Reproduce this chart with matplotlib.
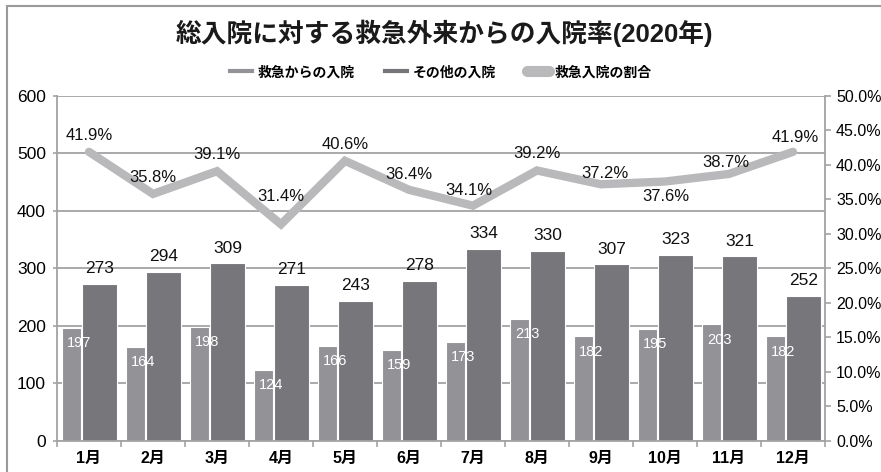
import matplotlib
matplotlib.use("Agg")
import matplotlib.pyplot as plt
from matplotlib.lines import Line2D
from matplotlib.patches import Rectangle
from matplotlib.ticker import FuncFormatter
import numpy as np

plt.rcParams['font.family'] = ['Liberation Sans', 'Noto Sans CJK JP', 'DejaVu Sans']

months = ['1月', '2月', '3月', '4月', '5月', '6月', '7月', '8月', '9月', '10月', '11月', '12月']
emergency = [197, 164, 198, 124, 166, 159, 173, 213, 182, 195, 203, 182]
other = [273, 294, 309, 271, 243, 278, 334, 330, 307, 323, 321, 252]
rate = [41.9, 35.8, 39.1, 31.4, 40.6, 36.4, 34.1, 39.2, 37.2, 37.6, 38.7, 41.9]

c_light = '#939397'
c_dark = '#77777b'
c_line = '#b9b9bc'
c_grid = '#a3a3a3'

fig = plt.figure(figsize=(8.81, 4.72), dpi=100)
ax = fig.add_axes([0.0647, 0.0657, 0.8717, 0.731])
x = np.arange(len(months))

ax.bar(x - 0.27, emergency, width=0.29, color=c_light, edgecolor='white', linewidth=0.8, zorder=2)
ax.bar(x + 0.165, other, width=0.54, color=c_dark, edgecolor='white', linewidth=0.8, zorder=2)

for i in range(len(months)):
    ax.annotate(str(emergency[i]), (x[i] - 0.15, emergency[i]), xytext=(0, -11),
                textcoords='offset points', ha='center', va='center',
                color='white', fontsize=10.5, zorder=3)
    ax.annotate(str(other[i]), (x[i] + 0.165, other[i]), xytext=(0, 11),
                textcoords='offset points', ha='center', va='center',
                color='#111111', fontsize=12.5, zorder=3)

ax.set_xlim(-0.5, 11.5)
ax.set_ylim(0, 600)
ax.set_yticks(range(0, 601, 100))
ax.set_xticks(np.arange(-0.5, 12, 1), minor=False)
ax.set_xticklabels([])
ax.set_xticks(x, minor=True)
ax.set_xticklabels(months, minor=True, fontsize=11.5, fontweight='bold')
ax.tick_params(axis='x', which='minor', length=0, pad=7)
ax.tick_params(axis='x', which='major', length=4, color=c_grid, width=1.2)
ax.tick_params(axis='y', length=3, color=c_grid, width=1.2, labelsize=12.5, pad=5)
ax.grid(axis='y', color=c_grid, linewidth=1.3)
ax.set_axisbelow(True)
for s in ['top', 'right']:
    ax.spines[s].set_visible(False)
for s in ['left', 'bottom']:
    ax.spines[s].set_color(c_grid)
    ax.spines[s].set_linewidth(1.3)

ax2 = ax.twinx()
ax2.plot(x, rate, color=c_line, linewidth=6, solid_joinstyle='miter', solid_capstyle='round', zorder=4)
ax2.set_ylim(0, 50)
ax2.set_yticks(np.arange(0, 50.1, 5))
ax2.yaxis.set_major_formatter(FuncFormatter(lambda v, p: '%.1f%%' % v))
ax2.tick_params(axis='y', length=4, color=c_grid, width=1.2, labelsize=11.5, pad=4)
for s in ['top', 'left', 'bottom']:
    ax2.spines[s].set_visible(False)
ax2.spines['right'].set_color(c_grid)
ax2.spines['right'].set_linewidth(1.3)

offsets = [(0, 12), (0, 12), (0, 12), (0, 20), (0, 12), (0, 11), (-3, 11),
           (0, 12), (3, 8), (1, -11), (-2, 8), (2, 10)]
for i in range(len(months)):
    ax2.annotate('%.1f%%' % rate[i], (x[i], rate[i]), xytext=offsets[i],
                 textcoords='offset points', ha='center', va='center',
                 color='#111111', fontsize=12, zorder=5)

fig.text(0.505, 0.93, '総入院に対する救急外来からの入院率(2020年)', ha='center', va='center',
         fontsize=18.5, fontweight='bold', color='#1a1a1a')

handles = [Line2D([], [], color=c_light, linewidth=3),
           Line2D([], [], color=c_dark, linewidth=3),
           Line2D([], [], color=c_line, linewidth=8, solid_capstyle='round')]
labels = ['救急からの入院', 'その他の入院', '救急入院の割合']
fig.legend(handles, labels, loc='center', bbox_to_anchor=(0.5, 0.847), ncol=3,
           frameon=False, prop={'size': 10, 'weight': 'bold'}, handlelength=1.6,
           handletextpad=0.4, columnspacing=2.2)

# outer frame: only top and left edges are inside the picture
fig.patches.append(Rectangle((0.008, -0.1), 1.1, 1.087, transform=fig.transFigure,
                             fill=False, edgecolor='#9a9a9a', linewidth=1.5))

fig.savefig('out.png', dpi=100)
